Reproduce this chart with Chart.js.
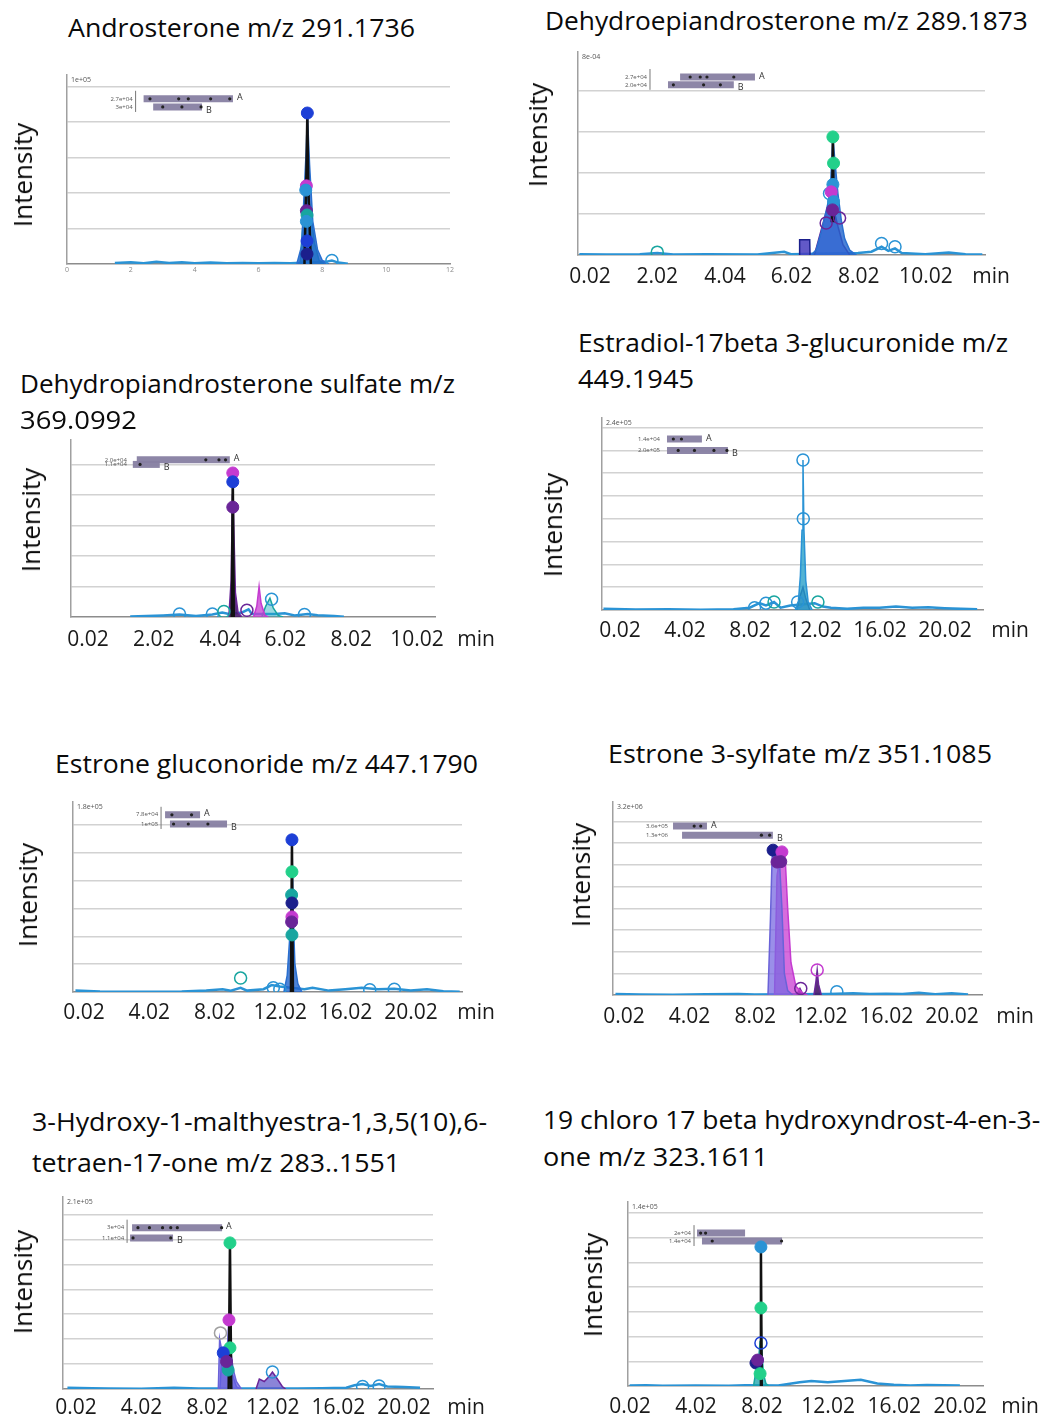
<!DOCTYPE html>
<html>
<head>
<meta charset="utf-8">
<script src="https://cdn.jsdelivr.net/npm/chart.js@4.4.0/dist/chart.umd.min.js"></script>
<style>
  body { margin: 0; background: #fff; width: 1044px; height: 1421px; position: relative; overflow: hidden; font-family: "Open Sans", sans-serif; }
  .title { position: absolute; white-space: nowrap; font-size: 26px; line-height: 1; color: #0a0a0a; transform-origin: 0 50%; }
  .ylab { position: absolute; white-space: nowrap; font-size: 26px; line-height: 1; color: #0a0a0a; transform: translate(-50%, -50%) rotate(-90deg); }
  canvas { position: absolute; }
</style>
</head>
<body>
<script>
// ---- data: time in min, intensity in gridline units ----

// Androsterone
const p1Ticks = [0, 2, 4, 6, 8, 10, 12];
const p1TickLabels = ['0', '2', '4', '6', '8', '10', '12'];
const p1Grid = [1, 2, 3, 4, 5];
const p1Fill = [[7.2,0],[7.35,0.5],[7.42,1.8],[7.5,3.3],[7.53,4.25],[7.6,2.8],[7.7,1.2],[7.85,0.4],[8.0,0.1],[8.2,0]];
const p1Fill2 = [[7.3,0],[7.4,1.2],[7.5,2.1],[7.62,1.6],[7.75,0.6],[7.9,0.1],[8.05,0]];
const p1Black = [[7.44,0],[7.5,2.5],[7.53,4.25],[7.56,2.2],[7.64,0]];
const p1Markers = [[7.53,4.25],[7.5,2.2],[7.48,2.08],[7.5,1.5],[7.52,1.38],[7.5,1.2],[7.52,0.65],[7.52,0.28]];
const p1Open = [[8.3,0.1]];
const p1Noise = [[1.5,0.03],[2.0,0.05],[2.4,0.02],[2.8,0.06],[3.2,0.03],[3.6,0.05],[4.0,0.02],[4.5,0.04],[5.0,0.02],[5.5,0.03],[6.0,0.02],[6.5,0.03],[7.0,0.02],[8.1,0.06],[8.3,0.1],[8.5,0.04],[8.8,0.01]];
const p1InsetA = [[2.4,4.65],[5.2,4.65]];
const p1InsetB = [[2.7,4.42],[4.23,4.42]];
const p1InsetDots = [[2.6,4.65],[3.5,4.65],[3.8,4.65],[4.5,4.65],[5.1,4.65],[3.0,4.42],[3.6,4.42],[4.2,4.42]];
const p1InsetLabels = ['2.7e+04', '3e+04'];

// Dehydroepiandrosterone
const p2Ticks = [0.02, 2.02, 4.04, 6.02, 8.02, 10.02];
const p2TickLabels = ['0.02', '2.02', '4.04', '6.02', '8.02', '10.02'];
const p2Grid = [1, 2, 3, 4];
const p2Fill = [[6.6,0],[6.75,0.12],[6.9,0.55],[7.0,0.9],[7.1,1.25],[7.18,1.7],[7.25,2.88],[7.32,2.2],[7.4,1.5],[7.5,0.85],[7.6,0.4],[7.75,0.12],[7.95,0]];
const p2Fill2 = [[6.7,0],[6.85,0.45],[6.95,0.75],[7.05,1.05],[7.15,1.3],[7.28,1.1],[7.4,0.7],[7.55,0.25],[7.75,0]];
const p2Rect = [[6.25,0],[6.26,0.37],[6.56,0.37],[6.57,0]];
const p2Black = [[7.22,0.8],[7.25,2.88],[7.28,0.8]];
const p2Markers = [[7.25,2.88],[7.27,2.24],[7.25,1.72],[7.2,1.54],[7.27,1.3],[7.24,1.1]];
const p2Open = [[7.05,0.78],[2.02,0.07],[8.7,0.28],[9.1,0.2],[7.15,1.5],[7.45,0.9]];
const p2Noise = [[-0.3,0.02],[0.5,0.01],[1.5,0.02],[2.02,0.05],[2.5,0.01],[3.5,0.02],[5.0,0.01],[5.8,0.08],[6.0,0.02],[8.0,0.05],[8.4,0.08],[8.7,0.2],[8.9,0.1],[9.1,0.16],[9.3,0.05],[10.0,0.02],[10.7,0.06],[11.2,0.02],[11.7,0.01]];
const p2InsetA = [[2.7,4.34],[4.93,4.34]];
const p2InsetB = [[2.34,4.15],[4.3,4.15]];
const p2InsetDots = [[3.0,4.34],[3.3,4.34],[3.5,4.34],[4.3,4.34],[2.5,4.15],[3.4,4.15],[3.9,4.15]];
const p2InsetLabels = ['2.7e+04', '2.0e+04'];

// Dehydropiandrosterone sulfate
const p3Ticks = [0.02, 2.02, 4.04, 6.02, 8.02, 10.02];
const p3TickLabels = ['0.02', '2.02', '4.04', '6.02', '8.02', '10.02'];
const p3Grid = [1, 2, 3, 4, 5];
const p3Fill = [[4.3,0],[4.37,1.2],[4.41,4.0],[4.42,4.72],[4.45,3.0],[4.5,0.8],[4.58,0.15],[4.7,0]];
const p3Small1 = [[5.05,0],[5.15,0.35],[5.22,1.0],[5.28,0.45],[5.4,0.05],[5.5,0]];
const p3Small2 = [[5.3,0],[5.42,0.35],[5.55,0.62],[5.65,0.3],[5.8,0.05],[5.95,0]];
const p3Black = [[4.39,0],[4.42,4.72],[4.45,0]];
const p3Markers = [[4.42,4.72],[4.42,4.43],[4.42,3.6]];
const p3Open = [[2.8,0.1],[3.8,0.1],[4.15,0.18],[4.85,0.22],[5.6,0.58],[6.6,0.08]];
const p3Noise = [[1.3,0.02],[1.8,0.03],[2.3,0.05],[2.8,0.08],[3.3,0.03],[3.8,0.08],[4.1,0.15],[4.3,0.1],[4.7,0.15],[4.9,0.25],[5.0,0.1],[5.7,0.1],[6.0,0.12],[6.3,0.05],[6.7,0.1],[7.0,0.06],[7.5,0.03],[7.8,0.01]];
const p3InsetA = [[1.5,5.15],[4.33,5.15]];
const p3InsetB = [[1.38,5.0],[2.2,5.0]];
const p3InsetDots = [[3.6,5.15],[4.0,5.15],[4.2,5.15],[1.6,5.0]];
const p3InsetLabels = ['2.0e+04', '1.1e+04'];

// Estradiol-17beta 3-glucuronide
const p4Ticks = [0.02, 4.02, 8.02, 12.02, 16.02, 20.02];
const p4TickLabels = ['0.02', '4.02', '8.02', '12.02', '16.02', '20.02'];
const p4Grid = [1, 2, 3, 4, 5, 6, 7, 8];
const p4Fill = [[10.8,0],[11.0,0.4],[11.12,1.5],[11.22,3.5],[11.28,6.58],[11.34,3.5],[11.45,1.3],[11.6,0.35],[11.85,0]];
const p4Fill2 = [[10.9,0],[11.1,0.6],[11.28,1.0],[11.45,0.5],[11.7,0]];
const p4Markers = [];
const p4Open = [[11.28,6.58],[11.3,4.0],[9.0,0.3],[9.5,0.35],[10.95,0.35],[12.2,0.35],[8.3,0.1]];
const p4Noise = [[-1,0.05],[1,0.02],[3,0.03],[5,0.01],[7,0.03],[8,0.1],[8.6,0.3],[9.0,0.2],[9.5,0.35],[9.9,0.1],[10.5,0.2],[12.0,0.3],[12.5,0.15],[13,0.1],[14,0.05],[15,0.1],[16,0.1],[17,0.15],[18,0.1],[19,0.12],[20,0.08],[21,0.05],[22,0.03]];
const p4InsetA = [[2.91,7.5],[5.06,7.5]];
const p4InsetB = [[2.91,7.0],[6.66,7.0]];
const p4InsetDots = [[3.3,7.5],[3.8,7.5],[3.6,7.0],[4.6,7.0],[5.8,7.0],[6.6,7.0]];
const p4InsetLabels = ['1.4e+04', '2.0e+05'];

// Estrone gluconoride
const p5Ticks = [0.02, 4.02, 8.02, 12.02, 16.02, 20.02];
const p5TickLabels = ['0.02', '4.02', '8.02', '12.02', '16.02', '20.02'];
const p5Grid = [1, 2, 3, 4, 5, 6];
const p5Fill = [[12.25,0],[12.45,0.6],[12.6,1.9],[12.7,3.5],[12.74,5.47],[12.82,2.7],[12.92,1.0],[13.1,0.3],[13.35,0]];
const p5Black = [[12.68,0],[12.74,5.47],[12.8,0]];
const p5Markers = [[12.74,5.47],[12.74,4.32],[12.72,3.49],[12.74,3.2],[12.74,2.7],[12.72,2.52],[12.74,2.05]];
const p5Open = [[9.6,0.5],[11.6,0.15],[12.0,0.1],[17.5,0.08],[19.0,0.1]];
const p5Noise = [[-0.5,0.05],[1,0.02],[3,0.01],[6,0.02],[7.5,0.05],[8.5,0.1],[9.0,0.05],[9.6,0.15],[10,0.05],[11,0.1],[11.5,0.25],[12,0.2],[13.5,0.1],[14,0.15],[15,0.05],[16,0.1],[17,0.15],[18,0.1],[19,0.12],[20,0.05],[21,0.1],[22,0.03],[23,0.01]];
const p5InsetA = [[4.98,6.37],[7.12,6.37]];
const p5InsetB = [[5.28,6.04],[8.77,6.04]];
const p5InsetDots = [[5.4,6.37],[6.6,6.37],[5.5,6.04],[6.4,6.04],[7.6,6.04]];
const p5InsetLabels = ['7.8e+04', '1e+05'];

// Estrone 3-sylfate
const p6Ticks = [0.02, 4.02, 8.02, 12.02, 16.02, 20.02];
const p6TickLabels = ['0.02', '4.02', '8.02', '12.02', '16.02', '20.02'];
const p6Grid = [1, 2, 3, 4, 5, 6, 7, 8];
const p6FillA = [[8.8,0],[8.95,3.5],[9.05,6.3],[9.11,6.68],[9.3,6.55],[9.5,6.2],[9.65,4.0],[9.8,1.0],[10.0,0.2],[10.3,0]];
const p6FillB = [[9.2,0],[9.35,5.5],[9.5,6.2],[9.65,6.6],[9.85,6.3],[10.0,4.0],[10.2,1.5],[10.5,0.4],[10.9,0.1],[11.2,0]];
const p6Small = [[10.55,0],[10.75,0.3],[10.95,0]];
const p6Small2 = [[11.6,0],[11.72,0.6],[11.8,1.15],[11.88,0.5],[12.05,0]];
const p6Markers = [[9.11,6.68],[9.65,6.6],[9.35,6.13],[9.58,6.15]];
const p6Open = [[11.8,1.15],[13.0,0.15],[10.8,0.3]];
const p6Noise = [[-0.5,0.05],[1,0.02],[3,0.01],[5,0.03],[7,0.05],[8,0.02],[12.5,0.05],[14,0.08],[15,0.05],[16,0.06],[17,0.05],[18,0.1],[19,0.04],[20,0.08],[21,0.02]];
const p6InsetA = [[3.01,7.79],[5.08,7.79]];
const p6InsetB = [[3.56,7.37],[9.1,7.37]];
const p6InsetDots = [[4.3,7.79],[4.7,7.79],[8.4,7.37],[8.9,7.37]];
const p6InsetLabels = ['3.6e+05', '1.3e+06'];

// 3-Hydroxy-1-malthyestra...
const p7Ticks = [0.02, 4.02, 8.02, 12.02, 16.02, 20.02];
const p7TickLabels = ['0.02', '4.02', '8.02', '12.02', '16.02', '20.02'];
const p7Grid = [1, 2, 3, 4, 5, 6, 7];
const p7Fill = [[8.7,0],[8.78,2.0],[8.9,1.6],[9.0,1.3],[9.2,1.1],[9.35,2.8],[9.45,1.6],[9.6,0.8],[9.8,0.3],[10.1,0]];
const p7Fill2 = [[8.8,0],[8.9,1.2],[9.05,1.45],[9.2,0.8],[9.4,1.65],[9.55,0.6],[9.8,0.1],[10.0,0]];
const p7Small = [[11.0,0],[11.2,0.4],[11.5,0.3],[11.8,0.5],[12.0,0.68],[12.3,0.4],[12.6,0.1],[12.8,0]];
const p7Black = [[9.33,0],[9.41,5.86],[9.49,0]];
const p7Markers = [[9.41,5.86],[9.35,2.77],[9.41,1.65],[9.0,1.45],[9.3,0.76],[9.2,1.1]];
const p7Open = [[8.83,2.25],[12.0,0.68],[17.5,0.1],[18.5,0.12]];
const p7Noise = [[-0.5,0.05],[1,0.03],[2,0.02],[4,0.01],[6,0.05],[7.5,0.02],[13.5,0.02],[15,0.03],[16.5,0.05],[17,0.15],[17.5,0.2],[18,0.12],[18.5,0.2],[19,0.1],[20,0.08],[21,0.05]];
const p7InsetA = [[3.44,6.47],[8.93,6.47]];
const p7InsetB = [[3.32,6.06],[5.94,6.06]];
const p7InsetDots = [[3.8,6.47],[4.5,6.47],[5.3,6.47],[5.8,6.47],[6.2,6.47],[8.9,6.47],[3.5,6.06],[5.8,6.06]];
const p7InsetLabels = ['3e+04', '1.1e+04'];

// 19 chloro 17 beta hydroxyndrost-4-en-3-one
const p8Ticks = [0.02, 4.02, 8.02, 12.02, 16.02, 20.02];
const p8TickLabels = ['0.02', '4.02', '8.02', '12.02', '16.02', '20.02'];
const p8Grid = [1, 2, 3, 4, 5, 6, 7];
const p8Fill = [[7.5,0],[7.65,0.6],[7.8,1.0],[7.9,1.8],[7.95,3.16],[8.0,1.5],[8.1,0.5],[8.25,0.1],[8.45,0]];
const p8Black = [[7.9,0],[7.95,5.63],[8.0,0]];
const p8Markers = [[7.95,5.63],[7.95,3.16],[7.65,0.93],[7.75,1.05],[7.9,0.5]];
const p8Open = [[7.95,1.74]];
const p8Noise = [[0,0.02],[1,0.03],[2,0.01],[4,0.02],[6,0.01],[7,0.03],[9,0.02],[10.3,0.15],[11,0.2],[12,0.15],[13,0.2],[14,0.25],[15,0.1],[16,0.05],[17,0.02],[18,0.04],[20,0.02]];
const p8InsetA = [[4.08,6.19],[6.99,6.19]];
const p8InsetB = [[4.38,5.87],[9.23,5.87]];
const p8InsetDots = [[4.3,6.19],[4.6,6.19],[5.0,5.87],[9.2,5.87]];
const p8InsetLabels = ['2e+04', '1.4e+04'];

// ---- styles ----
const COLORS = {
  blue: '#1d3fd6', navy: '#1b1f8c', teal: '#18a5a0', cyan: '#2a93d5',
  magenta: '#c43ad0', purple: '#6a2598', green: '#22d08a', gray: '#a0a0a0'
};
const FILL = {
  blue: 'rgba(32,100,205,0.8)', teal: 'rgba(20,160,170,0.75)', lav: 'rgba(120,105,225,0.75)',
  mag: 'rgba(200,60,210,0.75)', purp: 'rgba(70,25,105,0.9)', cyan: 'rgba(40,160,200,0.8)'
};

const panels = [
  { box: [67, 75, 450, 264], x: [0, 12], yMax: 5.32, grid: p1Grid, ticks: p1Ticks, labels: p1TickLabels, small: true, tickOff: 6, minDx: null,
    traces: [{ d: p1Fill, c: '#2a6fcf', f: FILL.blue }, { d: p1Fill2, c: COLORS.teal, f: FILL.teal }],
    black: p1Black, markers: p1Markers, markerColors: ['blue','magenta','cyan','purple','teal','cyan','blue','navy'],
    open: p1Open, openColors: ['cyan'], noise: p1Noise,
    inset: { a: p1InsetA, b: p1InsetB, dots: p1InsetDots, labels: p1InsetLabels, top: '1e+05', gap: 8, line: true, letters: true },
    titles: [{ t: 'Androsterone m/z 291.1736', x: 68, y: 27, w: 347 }], ylab: [22, 175] },
  { box: [578, 52, 985, 255], x: [-0.34, 11.78], yMax: 4.95, grid: p2Grid, ticks: p2Ticks, labels: p2TickLabels, tickOff: 22, minDx: 6,
    traces: [{ d: p2Fill, c: '#2a6fcf', f: FILL.blue }, { d: p2Fill2, c: COLORS.purple, f: FILL.lav }, { d: p2Rect, c: COLORS.navy, f: 'rgba(70,60,190,0.85)' }],
    black: p2Black, markers: p2Markers, markerColors: ['green','green','cyan','magenta','cyan','purple'],
    open: p2Open, openColors: ['purple','teal','cyan','cyan','cyan','purple'], noise: p2Noise,
    inset: { a: p2InsetA, b: p2InsetB, dots: p2InsetDots, labels: p2InsetLabels, top: '8e-04', gap: 18, line: true, letters: true },
    titles: [{ t: 'Dehydroepiandrosterone m/z 289.1873', x: 545, y: 20, w: 483 }], ylab: [537, 135] },
  { box: [71, 440, 435, 617], x: [-0.5, 10.57], yMax: 5.8, grid: p3Grid, ticks: p3Ticks, labels: p3TickLabels, tickOff: 23, minDx: 41,
    traces: [{ d: p3Fill, c: COLORS.purple, f: FILL.purp }, { d: p3Small1, c: COLORS.magenta, f: FILL.mag }, { d: p3Small2, c: COLORS.teal, f: 'rgba(30,170,190,0.45)' }],
    black: p3Black, markers: p3Markers, markerColors: ['magenta','blue','purple'],
    open: p3Open, openColors: ['cyan','cyan','teal','purple','cyan','cyan'], noise: p3Noise,
    inset: { a: p3InsetA, b: p3InsetB, dots: p3InsetDots, labels: p3InsetLabels, top: '', gap: 3, line: false, letters: true },
    titles: [{ t: 'Dehydropiandrosterone sulfate m/z', x: 20, y: 383, w: 435 }, { t: '369.0992', x: 20, y: 419, w: 117 }], ylab: [30, 520] },
  { box: [602, 418, 983, 610], x: [-1.09, 22.36], yMax: 8.42, grid: p4Grid, ticks: p4Ticks, labels: p4TickLabels, tickOff: 21, minDx: 27,
    traces: [{ d: p4Fill, c: COLORS.cyan, f: FILL.cyan }, { d: p4Fill2, c: COLORS.navy, f: 'rgba(40,60,170,0.6)' }],
    black: null, markers: p4Markers, markerColors: [],
    open: p4Open, openColors: ['cyan','cyan','cyan','teal','cyan','teal','cyan'], noise: p4Noise,
    inset: { a: p4InsetA, b: p4InsetB, dots: p4InsetDots, labels: p4InsetLabels, top: '2.4e+05', gap: 4, line: false, letters: true },
    titles: [{ t: 'Estradiol-17beta 3-glucuronide m/z', x: 578, y: 342, w: 430 }, { t: '449.1945', x: 578, y: 378, w: 116 }], ylab: [552, 525] },
  { box: [73, 802, 462, 992], x: [-0.65, 23.14], yMax: 6.83, grid: p5Grid, ticks: p5Ticks, labels: p5TickLabels, tickOff: 21, minDx: 14,
    traces: [{ d: p5Fill, c: '#2a6fcf', f: FILL.blue }],
    black: p5Black, markers: p5Markers, markerColors: ['blue','green','teal','navy','magenta','purple','teal'],
    open: p5Open, openColors: ['teal','cyan','cyan','cyan','cyan'], noise: p5Noise,
    inset: { a: p5InsetA, b: p5InsetB, dots: p5InsetDots, labels: p5InsetLabels, top: '1.8e+05', gap: 4, line: true, letters: true },
    titles: [{ t: 'Estrone gluconoride m/z 447.1790', x: 55, y: 763, w: 423 }], ylab: [27, 895] },
  { box: [613, 802, 982, 995], x: [-0.65, 21.85], yMax: 8.9, grid: p6Grid, ticks: p6Ticks, labels: p6TickLabels, tickOff: 22, minDx: 33,
    traces: [{ d: p6FillA, c: '#6a62d8', f: FILL.lav }, { d: p6FillB, c: COLORS.magenta, f: FILL.mag }, { d: p6Small, c: COLORS.purple, f: FILL.purp }, { d: p6Small2, c: COLORS.purple, f: FILL.purp }],
    black: null, markers: p6Markers, markerColors: ['navy','magenta','purple','purple'],
    open: p6Open, openColors: ['magenta','cyan','purple'], noise: p6Noise,
    inset: { a: p6InsetA, b: p6InsetB, dots: p6InsetDots, labels: p6InsetLabels, top: '3.2e+06', gap: 2, line: false, letters: true },
    titles: [{ t: 'Estrone 3-sylfate m/z 351.1085', x: 608, y: 753, w: 384 }], ylab: [580, 875] },
  { box: [63, 1197, 433, 1389], x: [-0.77, 21.79], yMax: 7.7, grid: p7Grid, ticks: p7Ticks, labels: p7TickLabels, tickOff: 19, minDx: 33,
    traces: [{ d: p7Fill, c: '#6a62d8', f: FILL.lav }, { d: p7Fill2, c: COLORS.blue, f: 'rgba(40,70,200,0.7)' }, { d: p7Small, c: COLORS.purple, f: 'rgba(90,80,200,0.7)' }],
    black: p7Black, markers: p7Markers, markerColors: ['green','magenta','green','blue','teal','purple'],
    open: p7Open, openColors: ['gray','cyan','cyan','cyan'], noise: p7Noise,
    inset: { a: p7InsetA, b: p7InsetB, dots: p7InsetDots, labels: p7InsetLabels, top: '2.1e+05', gap: 3, line: true, letters: true },
    titles: [{ t: '3-Hydroxy-1-malthyestra-1,3,5(10),6-', x: 32, y: 1121, w: 455 }, { t: 'tetraen-17-one m/z 283..1551', x: 32, y: 1162, w: 368 }], ylab: [22, 1282] },
  { box: [628, 1202, 983, 1386], x: [-0.1, 21.4], yMax: 7.45, grid: p8Grid, ticks: p8Ticks, labels: p8TickLabels, tickOff: 21, minDx: 37,
    traces: [{ d: p8Fill, c: COLORS.teal, f: FILL.teal }],
    black: p8Black, markers: p8Markers, markerColors: ['cyan','green','navy','purple','green'],
    open: p8Open, openColors: ['blue'], noise: p8Noise,
    inset: { a: p8InsetA, b: p8InsetB, dots: p8InsetDots, labels: p8InsetLabels, top: '1.4e+05', gap: 3, line: true, letters: false },
    titles: [{ t: '19 chloro 17 beta hydroxyndrost-4-en-3-', x: 543, y: 1119, w: 497 }, { t: 'one m/z 323.1611', x: 543, y: 1156, w: 225 }], ylab: [592, 1285] }
];

Chart.defaults.font.family = '"Open Sans", sans-serif';

function pts(a) { return a.map(([x, y]) => ({ x, y })); }

// draws the small text in the plot: top value, inset labels, A/B and "min"
const panelText = {
  id: 'panelText',
  afterDatasetsDraw(chart, args, o) {
    const { ctx, chartArea: a, scales: { x, y } } = chart;
    const ins = o.inset;
    ctx.save();
    ctx.fillStyle = '#555';
    if (ins.top) {
      ctx.font = '7px "Open Sans"';
      ctx.textAlign = 'left';
      ctx.textBaseline = 'top';
      ctx.fillText(ins.top, a.left + 4, a.top + 1);
    }
    const ya = y.getPixelForValue(ins.a[0][1]);
    const yb = y.getPixelForValue(ins.b[0][1]);
    const x0 = Math.min(x.getPixelForValue(ins.a[0][0]), x.getPixelForValue(ins.b[0][0]));
    const lx = x0 - ins.gap;
    if (ins.line) {
      ctx.strokeStyle = '#777';
      ctx.lineWidth = 1;
      ctx.beginPath();
      ctx.moveTo(lx, ya - 8);
      ctx.lineTo(lx, yb + 5);
      ctx.stroke();
    }
    ctx.font = '6px "Open Sans"';
    ctx.textAlign = 'right';
    ctx.textBaseline = 'middle';
    ctx.fillText(ins.labels[0], lx - 3, ya);
    ctx.fillText(ins.labels[1], lx - 3, yb);
    if (ins.letters) {
      ctx.font = '9px "Open Sans"';
      ctx.textAlign = 'left';
      ctx.fillStyle = '#333';
      ctx.fillText('A', x.getPixelForValue(ins.a[1][0]) + 4, ya - 1);
      ctx.fillText('B', x.getPixelForValue(ins.b[1][0]) + 4, yb + 3);
    }
    if (o.minDx !== null) {
      ctx.font = '21px "Open Sans"';
      ctx.fillStyle = '#1a1a1a';
      ctx.textAlign = 'center';
      ctx.textBaseline = 'middle';
      ctx.fillText('min', a.right + o.minDx, a.bottom + o.tickOff);
    }
    ctx.restore();
  }
};

function buildDatasets(p) {
  const ds = [];
  ds.push({ data: pts(p.markers), showLine: false, pointRadius: 6,
    pointBackgroundColor: p.markerColors.map(k => COLORS[k]), pointBorderColor: p.markerColors.map(k => COLORS[k]), pointBorderWidth: 1 });
  ds.push({ data: pts(p.open), showLine: false, pointRadius: 6, pointBackgroundColor: 'rgba(255,255,255,0)',
    pointBorderColor: p.openColors.map(k => COLORS[k]), pointBorderWidth: 1.5 });
  if (p.black) ds.push({ data: pts(p.black), borderColor: '#111', borderWidth: 2.5, pointRadius: 0, fill: false });
  ds.push({ data: pts(p.inset.dots), showLine: false, pointRadius: 1.6, pointBackgroundColor: '#222', pointBorderWidth: 0 });
  [p.inset.a, p.inset.b].forEach(b => ds.push({ data: pts(b), borderColor: 'rgba(135,128,162,0.95)', borderWidth: 7,
    borderCapStyle: 'butt', pointRadius: 0, fill: false }));
  p.traces.forEach(t => ds.push({ data: pts(t.d), borderColor: t.c, backgroundColor: t.f, fill: 'origin', borderWidth: 1.5, pointRadius: 0 }));
  ds.push({ data: pts(p.noise), borderColor: COLORS.cyan, borderWidth: 2.5, pointRadius: 0, fill: false });
  return ds;
}

const PAD = { l: 45, t: 12, r: 72, b: 46 };

panels.forEach(p => {
  const [L, T, R, B] = p.box;
  const w = R - L + PAD.l + PAD.r;
  const h = B - T + PAD.t + PAD.b;
  const c = document.createElement('canvas');
  c.width = w; c.height = h;
  c.style.left = (L - PAD.l) + 'px';
  c.style.top = (T - PAD.t) + 'px';
  c.style.width = w + 'px';
  c.style.height = h + 'px';
  document.body.appendChild(c);

  const tickSize = p.small ? 7 : 21;
  new Chart(c, {
    type: 'line',
    data: { datasets: buildDatasets(p) },
    options: {
      responsive: false,
      animation: false,
      devicePixelRatio: 1,
      layout: { padding: { left: PAD.l, top: PAD.t, right: PAD.r, bottom: 0 } },
      plugins: {
        legend: { display: false },
        tooltip: { enabled: false },
        panelText: { inset: p.inset, minDx: p.minDx, tickOff: p.tickOff }
      },
      scales: {
        x: {
          type: 'linear', min: p.x[0], max: p.x[1],
          afterBuildTicks: s => { s.ticks = p.ticks.map(v => ({ value: v })); },
          afterFit: s => { s.height = PAD.b; },
          grid: { display: false, drawTicks: false },
          border: { display: true, color: '#8c8c8c', width: 1.5 },
          ticks: {
            autoSkip: false, maxRotation: 0, minRotation: 0,
            padding: p.tickOff - tickSize * 0.6,
            color: p.small ? '#8a8a8a' : '#1a1a1a',
            font: { size: tickSize },
            callback: (v, i) => p.labels[i]
          }
        },
        y: {
          min: 0, max: p.yMax,
          afterBuildTicks: s => { s.ticks = p.grid.map(v => ({ value: v })); },
          afterFit: s => { s.width = 0; },
          grid: { color: '#d2d2d2', lineWidth: 1.5, drawTicks: false },
          border: { display: true, color: '#a0a0a0', width: 1.5 },
          ticks: { display: false }
        }
      }
    },
    plugins: [panelText]
  });
});

// titles and axis names
panels.forEach(p => {
  p.titles.forEach(t => {
    const d = document.createElement('div');
    d.className = 'title';
    d.textContent = t.t;
    d.style.left = t.x + 'px';
    d.style.top = t.y + 'px';
    document.body.appendChild(d);
    const s = t.w / d.getBoundingClientRect().width;
    d.style.transform = 'translateY(-50%) scaleX(' + s.toFixed(3) + ')';
  });
  const yl = document.createElement('div');
  yl.className = 'ylab';
  yl.textContent = 'Intensity';
  yl.style.left = p.ylab[0] + 'px';
  yl.style.top = p.ylab[1] + 'px';
  document.body.appendChild(yl);
});
</script>
</body>
</html>
